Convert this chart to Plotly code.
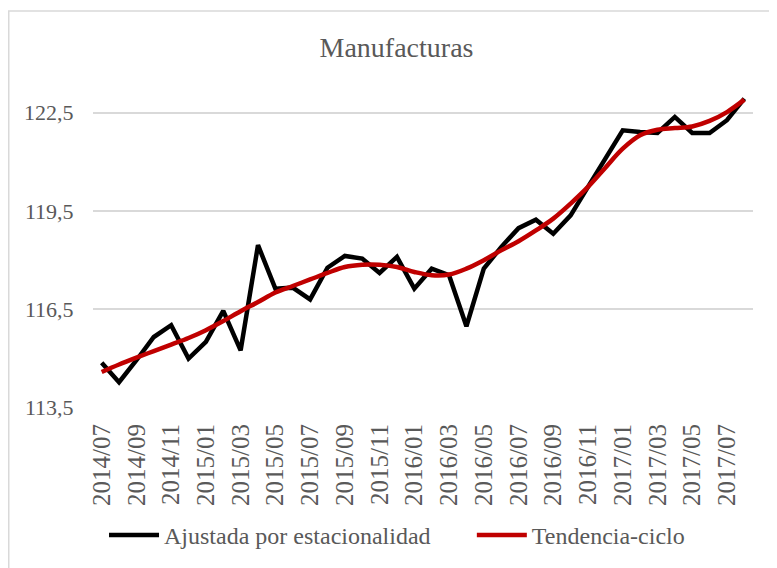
import plotly.graph_objects as go

months = [f"{y}/{m:02d}" for y, m in
          [(2014, m) for m in range(7, 13)] + [(2015, m) for m in range(1, 13)] +
          [(2016, m) for m in range(1, 13)] + [(2017, m) for m in range(1, 9)]]

ajustada = [114.85, 114.26, 114.93, 115.64, 116.00, 114.98, 115.49, 116.44, 115.23, 118.45,
            117.12, 117.15, 116.79, 117.76, 118.12, 118.04, 117.60, 118.09, 117.12, 117.73,
            117.53, 115.97, 117.73, 118.39, 118.97, 119.23, 118.80, 119.36, 120.23, 121.10,
            121.96, 121.91, 121.88, 122.37, 121.88, 121.88, 122.27, 122.93]

tendencia = [114.57, 114.80, 115.01, 115.21, 115.41, 115.61, 115.85, 116.13, 116.43, 116.71,
             117.00, 117.20, 117.40, 117.60, 117.78, 117.85, 117.85, 117.78, 117.63, 117.53,
             117.55, 117.73, 117.99, 118.29, 118.57, 118.90, 119.26, 119.72, 120.23, 120.82,
             121.40, 121.81, 121.98, 122.03, 122.08, 122.25, 122.52, 122.90]

y_tickvals = [113.5, 116.5, 119.5, 122.5]
y_ticktext = ["113,5", "116,5", "119,5", "122,5"]
x_tickvals = list(range(0, len(months), 2))
x_ticktext = [months[i] for i in x_tickvals]

FONT = "Palatino Linotype, Book Antiqua, Liberation Serif, serif"
GRAY = "#595959"

xs = list(range(len(months)))

fig = go.Figure()
fig.add_trace(go.Scatter(x=xs, y=ajustada, mode="lines", name="Ajustada por estacionalidad",
                         line=dict(color="#000000", width=4.5), legend="legend"))
fig.add_trace(go.Scatter(x=xs, y=tendencia, mode="lines", name="Tendencia-ciclo",
                         line=dict(color="#C00000", width=4.5, shape="spline", smoothing=1),
                         legend="legend2"))

PH = 326.7  # plot height in px
legend_common = dict(orientation="h", y=-0.393, yanchor="middle", xanchor="left",
                     font=dict(size=24, color=GRAY, family=FONT),
                     bgcolor="rgba(0,0,0,0)", itemwidth=50)

# the page body adds an 8px offset, so the figure is laid out 8px up/left
fig.update_layout(
    width=777, height=568,
    margin=dict(l=85, r=32, t=72, b=169, autoexpand=False),
    paper_bgcolor="white", plot_bgcolor="white",
    font=dict(family=FONT, color=GRAY, size=21),
    title=dict(text="Manufacturas", x=0.5, xref="container", xanchor="center",
               y=1 - 39 / 568, yref="container", yanchor="middle",
               font=dict(size=28, color=GRAY, family=FONT)),
    showlegend=True,
    legend=dict(x=0.0167, **legend_common),
    legend2=dict(x=0.574, **legend_common),
    xaxis=dict(range=[-0.5, len(months) - 0.5], tickmode="array", tickvals=x_tickvals,
               ticktext=x_ticktext, tickangle=-90, showgrid=False, zeroline=False,
               showline=False, ticks="outside", ticklen=0, ticklabelstandoff=6,
               automargin=False,
               tickfont=dict(size=25, color=GRAY, family=FONT), fixedrange=True),
    yaxis=dict(range=[113.5, 123.5], tickmode="array", tickvals=y_tickvals,
               ticktext=y_ticktext, showgrid=True, gridcolor="#D9D9D9", gridwidth=1.5,
               zeroline=False, showline=False, ticks="outside", ticklen=0,
               automargin=False,
               ticklabelstandoff=14, tickfont=dict(size=22, color=GRAY, family=FONT)),
    shapes=[dict(type="rect", xref="paper", yref="paper",
                 x0=(0.75 - 85) / 660, x1=(800 - 85) / 660,
                 y0=1 - (580 - 72) / PH, y1=1 + (72 - 3) / PH,
                 line=dict(color="#D9D9D9", width=1.5), layer="below")],
)

fig.write_html("out.html")
